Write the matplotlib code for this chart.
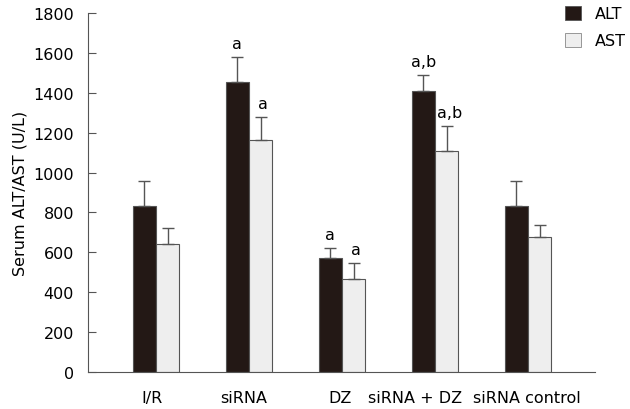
import matplotlib
matplotlib.use("Agg")
import matplotlib.pyplot as plt
import matplotlib.transforms as mtransforms
from matplotlib.patches import Patch
import numpy as np

groups = ["I/R", "siRNA", "DZ", "siRNA + DZ", "siRNA control"]
alt_mean = [831, 1453, 570, 1407, 831]
alt_err = [129, 125, 52, 81, 129]
ast_mean = [640, 1162, 467, 1110, 675]
ast_err = [82, 116, 81, 123, 63]
alt_marks = ["", "a", "a", "a,b", ""]
ast_marks = ["", "a", "a", "a,b", ""]

ALT_COLOR = "#231815"
AST_COLOR = "#eeeeee"
EDGE = "#555555"

plt.rcParams["font.family"] = ["DejaVu Sans"]
plt.rcParams["font.size"] = 11.5

fig = plt.figure(figsize=(6.3, 4.1), dpi=100)
ax = fig.add_axes([88 / 630, 1 - 373 / 410, (595 - 88) / 630, (373 - 14) / 410])

x = np.arange(len(groups))
w = 0.25
ax.bar(x - w / 2, alt_mean, w, color=ALT_COLOR, edgecolor=EDGE, linewidth=0.8)
ax.bar(x + w / 2, ast_mean, w, color=AST_COLOR, edgecolor=EDGE, linewidth=0.8)
ax.errorbar(x - w / 2, alt_mean, yerr=[np.zeros(len(x)), alt_err], fmt="none",
            ecolor=EDGE, elinewidth=1, capsize=4, capthick=1)
ax.errorbar(x + w / 2, ast_mean, yerr=[np.zeros(len(x)), ast_err], fmt="none",
            ecolor=EDGE, elinewidth=1, capsize=4, capthick=1)

for i in range(len(groups)):
    if alt_marks[i]:
        ax.text(x[i] - w / 2, alt_mean[i] + alt_err[i] + 30, alt_marks[i],
                ha="center", va="bottom")
    if ast_marks[i]:
        ax.text(x[i] + w / 2 + 0.03, ast_mean[i] + ast_err[i] + 30, ast_marks[i],
                ha="center", va="bottom")

ax.set_xlim(-0.73, 4.72)
ax.set_ylim(0, 1800)
ax.set_yticks(range(0, 1801, 200))
ax.set_xticks(x)
ax.set_xticklabels(groups)
ax.tick_params(axis="x", length=0, pad=13)
ax.tick_params(axis="y", direction="in", length=6, width=0.8, color=EDGE, pad=10)
for lab, dx in zip(ax.get_xticklabels(), [-4, -5, -2, -20, -1]):
    lab.set_transform(lab.get_transform() +
                      mtransforms.ScaledTranslation(dx / 100, 0, fig.dpi_scale_trans))
ax.set_ylabel("Serum ALT/AST (U/L)", labelpad=4)
for side in ["top", "right"]:
    ax.spines[side].set_visible(False)
for side in ["left", "bottom"]:
    ax.spines[side].set_color(EDGE)
    ax.spines[side].set_linewidth(0.8)

handles = [Patch(facecolor=ALT_COLOR, edgecolor=EDGE, linewidth=0.6, label="ALT"),
           Patch(facecolor=AST_COLOR, edgecolor="#888888", linewidth=0.6, label="AST")]
fig.legend(handles=handles, loc="upper left", bbox_to_anchor=(560 / 630, 0.995),
           frameon=False, handlelength=1.0, handleheight=1.0, handletextpad=0.9,
           labelspacing=0.7, borderaxespad=0.2, borderpad=0.1)

fig.savefig("out.png", dpi=100)
